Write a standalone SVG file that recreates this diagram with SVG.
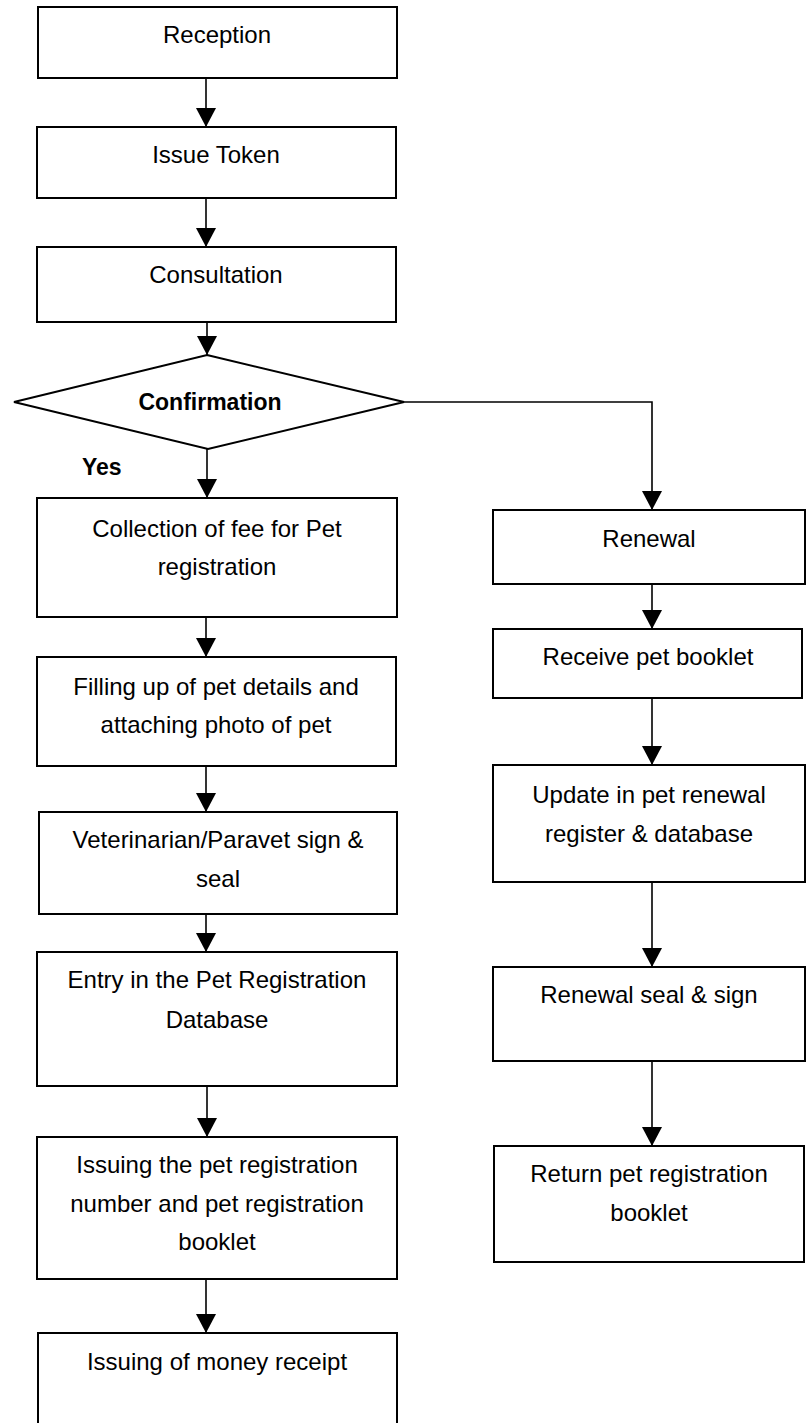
<svg xmlns="http://www.w3.org/2000/svg" width="809" height="1423" viewBox="0 0 809 1423">
<style>
.box{fill:#fff;stroke:#000;stroke-width:2}
.t{font-family:"Liberation Sans",Arial,sans-serif;font-size:24px;fill:#000;text-anchor:middle}
.b{font-family:"Liberation Sans",Arial,sans-serif;font-size:23px;font-weight:bold;fill:#000}
.c{fill:none;stroke:#000;stroke-width:1.6;marker-end:url(#ah)}
</style>
<defs>
<marker id="ah" viewBox="0 0 19 20" refX="19" refY="10" markerWidth="19" markerHeight="20" markerUnits="userSpaceOnUse" orient="auto">
<path d="M0,0 L19,10 L0,20 z" fill="#000"/>
</marker>
</defs>
<rect width="809" height="1423" fill="#fff"/>
<g id="connectors">
<path class="c" d="M206,78 V127"/>
<path class="c" d="M206,198 V247"/>
<path class="c" d="M207,322 V355"/>
<path class="c" d="M207,449 V498"/>
<path class="c" d="M206,617 V657"/>
<path class="c" d="M206,766 V812"/>
<path class="c" d="M206,914 V952"/>
<path class="c" d="M207,1086 V1137"/>
<path class="c" d="M206,1279 V1333"/>
<path class="c" d="M404,402 H652 V510"/>
<path class="c" d="M652,584 V629"/>
<path class="c" d="M652,698 V765"/>
<path class="c" d="M652,882 V967"/>
<path class="c" d="M652,1061 V1146"/>
</g>
<g id="reception"><rect class="box" x="38" y="7" width="359" height="71"/><text class="t" x="217" y="43">Reception</text></g>
<g id="issue-token"><rect class="box" x="37" y="127" width="359" height="71"/><text class="t" x="216" y="163">Issue Token</text></g>
<g id="consultation"><rect class="box" x="37" y="247" width="359" height="75"/><text class="t" x="216" y="283">Consultation</text></g>
<g id="confirmation"><path class="box" d="M207,355 L404,402 L208,449 L14,402 Z"/><text class="b" x="210" y="410" text-anchor="middle">Confirmation</text></g>
<g id="yes-label"><text class="b" x="82" y="475">Yes</text></g>
<g id="collection"><rect class="box" x="37" y="498" width="360" height="119"/><text class="t" x="217" y="537">Collection of fee for Pet</text><text class="t" x="217" y="575">registration</text></g>
<g id="filling"><rect class="box" x="37" y="657" width="359" height="109"/><text class="t" x="216" y="695">Filling up of pet details and</text><text class="t" x="216" y="733">attaching photo of pet</text></g>
<g id="veterinarian"><rect class="box" x="39" y="812" width="358" height="102"/><text class="t" x="218" y="848">Veterinarian/Paravet sign &amp;</text><text class="t" x="218" y="887">seal</text></g>
<g id="entry"><rect class="box" x="37" y="952" width="360" height="134"/><text class="t" x="217" y="988">Entry in the Pet Registration</text><text class="t" x="217" y="1028">Database</text></g>
<g id="issuing-number"><rect class="box" x="37" y="1137" width="360" height="142"/><text class="t" x="217" y="1173">Issuing the pet registration</text><text class="t" x="217" y="1212">number and pet registration</text><text class="t" x="217" y="1250">booklet</text></g>
<g id="money-receipt"><rect class="box" x="38" y="1333" width="359" height="100"/><text class="t" x="217" y="1370">Issuing of money receipt</text></g>
<g id="renewal"><rect class="box" x="493" y="510" width="312" height="74"/><text class="t" x="649" y="547">Renewal</text></g>
<g id="receive"><rect class="box" x="493" y="629" width="309" height="69"/><text class="t" x="648" y="665">Receive pet booklet</text></g>
<g id="update"><rect class="box" x="493" y="765" width="312" height="117"/><text class="t" x="649" y="803">Update in pet renewal</text><text class="t" x="649" y="842">register &amp; database</text></g>
<g id="renewal-seal"><rect class="box" x="493" y="967" width="312" height="94"/><text class="t" x="649" y="1003">Renewal seal &amp; sign</text></g>
<g id="return"><rect class="box" x="494" y="1146" width="310" height="116"/><text class="t" x="649" y="1182">Return pet registration</text><text class="t" x="649" y="1221">booklet</text></g>
</svg>
